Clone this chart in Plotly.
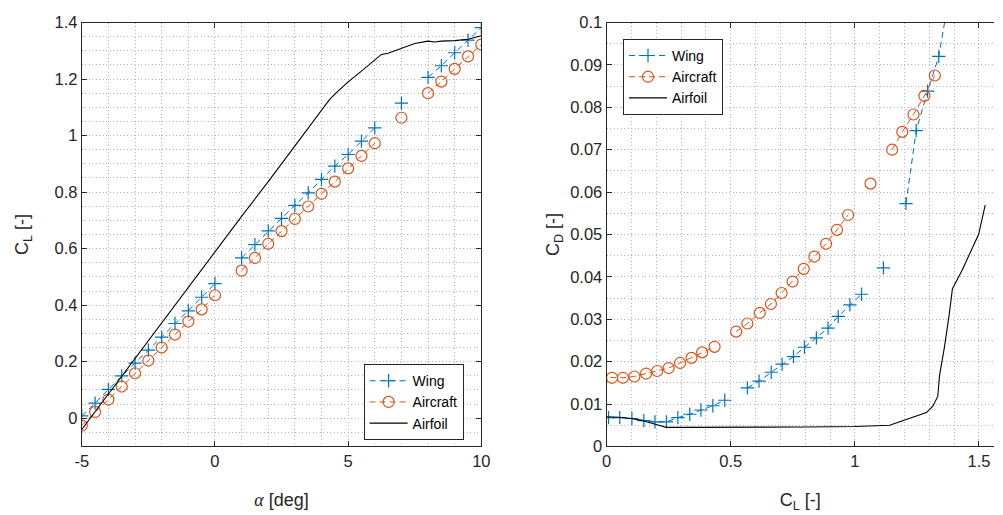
import math
import plotly.graph_objects as go

NaN = math.nan

# Angle of attack sweep [deg]; NaN entries are unconverged cases
alpha = [-5, -4.5, -4, -3.5, -3, -2.5, -2, -1.5, -1, -0.5, 0, 0.5, 1, 1.5, 2, 2.5,
         3, 3.5, 4, 4.5, 5, 5.5, 6, 6.5, 7, 7.5, 8, 8.5, 9, 9.5, 10]

cl_wing = [0.008, 0.053, 0.102, 0.150, 0.195, 0.241, 0.287, 0.335, 0.380, 0.428, 0.476, NaN,
           0.567, 0.614, 0.663, 0.707, 0.753, 0.797, 0.845, 0.892, 0.933, 0.980, 1.027, NaN,
           1.115, NaN, 1.206, 1.247, 1.293, 1.338, 1.382]
cd_wing = [0.0068, 0.0068, 0.0066, 0.0061, 0.0058, 0.0058, 0.0068, 0.0076, 0.0086, 0.0096, 0.0109, NaN,
           0.0138, 0.0154, 0.0175, 0.0194, 0.0212, 0.0234, 0.0256, 0.0279, 0.0307, 0.0334, 0.0359, NaN,
           0.0421, NaN, 0.0573, 0.0745, 0.0838, 0.0920, 0.1070]

cl_aircraft = [-0.026, 0.022, 0.066, 0.112, 0.159, 0.204, 0.250, 0.296, 0.342, 0.385, 0.435, NaN,
               0.522, 0.567, 0.617, 0.662, 0.705, 0.749, 0.794, 0.837, 0.884, 0.928, 0.973, NaN,
               1.063, NaN, 1.150, 1.191, 1.236, 1.280, 1.322]
cd_aircraft = [0.0163, 0.0162, 0.0162, 0.0165, 0.0172, 0.0178, 0.0185, 0.0197, 0.0209, 0.0222, 0.0235, NaN,
               0.0271, 0.0290, 0.0315, 0.0336, 0.0362, 0.0389, 0.0419, 0.0448, 0.0478, 0.0511, 0.0546, NaN,
               0.0620, NaN, 0.0700, 0.0742, 0.0783, 0.0827, 0.0875]

# 2D airfoil lift curve
alpha_airfoil = [-5, -4, -3, -2, -1, 0, 1, 2, 3, 3.5, 4, 4.3, 4.5, 5, 5.5, 6, 6.25, 6.5,
                 7, 7.5, 8, 8.25, 8.5, 9, 9.5, 10]
cl_airfoil = [-0.040, 0.086, 0.211, 0.337, 0.463, 0.588, 0.714, 0.837, 0.965, 1.028, 1.090, 1.127,
              1.147, 1.190, 1.228, 1.266, 1.287, 1.291, 1.309, 1.326, 1.334, 1.331, 1.334, 1.336,
              1.341, 1.353]

# 2D airfoil drag polar
cl_polar = [0.0, 0.05, 0.10, 0.15, 0.20, 0.24, 0.30, 0.50, 0.80, 1.00, 1.10, 1.14, 1.21, 1.288,
            1.314, 1.334, 1.341, 1.361, 1.380, 1.393, 1.433, 1.479, 1.499, 1.525]
cd_polar = [0.0070, 0.0069, 0.0066, 0.0060, 0.0052, 0.0045, 0.0045, 0.0045, 0.0046, 0.0047, 0.0048,
            0.0050, 0.0064, 0.0080, 0.0095, 0.0118, 0.0167, 0.0235, 0.0311, 0.0372, 0.0417, 0.0478,
            0.0501, 0.0569]

alpha_ticks = [-5, 0, 5, 10]
alpha_ticktext = ["-5", "0", "5", "10"]
cl_ticks = [0, 0.2, 0.4, 0.6, 0.8, 1, 1.2, 1.4]
cl_ticktext = ["0", "0.2", "0.4", "0.6", "0.8", "1", "1.2", "1.4"]
cd_ticks = [0, 0.01, 0.02, 0.03, 0.04, 0.05, 0.06, 0.07, 0.08, 0.09, 0.1]
cd_ticktext = ["0", "0.01", "0.02", "0.03", "0.04", "0.05", "0.06", "0.07", "0.08", "0.09", "0.1"]
clx_ticks = [0, 0.5, 1, 1.5]
clx_ticktext = ["0", "0.5", "1", "1.5"]

BLUE = "#0072BD"
ORANGE = "#D95319"
INK = "#262626"
GRID = "#b4b4b4"
GRID_DASH = "1px,2.5px"
FONT = "Liberation Sans"

W, H = 1003, 515


def dom_x(a, b):
    return [a / W, b / W]


def dom_y(top, bottom):
    return [(H - bottom) / H, (H - top) / H]


fig = go.Figure()

wing_marker = dict(symbol="cross-thin-open", size=9.5, color=BLUE, line=dict(color=BLUE, width=1.2))
air_marker = dict(symbol="circle-open", size=11, color=ORANGE, line=dict(color=ORANGE, width=1.2))

# Lift curves
fig.add_trace(go.Scatter(x=alpha, y=cl_wing, name="Wing", mode="lines+markers",
                         line=dict(color=BLUE, width=1, dash="6px,4px"), marker=wing_marker,
                         xaxis="x", yaxis="y", legend="legend"))
fig.add_trace(go.Scatter(x=alpha, y=cl_aircraft, name="Aircraft", mode="lines+markers",
                         line=dict(color=ORANGE, width=1, dash="6px,4px"), marker=air_marker,
                         xaxis="x", yaxis="y", legend="legend"))
fig.add_trace(go.Scatter(x=alpha_airfoil, y=cl_airfoil, name="Airfoil", mode="lines",
                         line=dict(color="black", width=1.1),
                         xaxis="x", yaxis="y", legend="legend"))

# Drag polars
fig.add_trace(go.Scatter(x=cl_wing, y=cd_wing, name="Wing", mode="lines+markers",
                         line=dict(color=BLUE, width=1, dash="6px,4px"), marker=wing_marker,
                         xaxis="x2", yaxis="y2", legend="legend2"))
fig.add_trace(go.Scatter(x=cl_aircraft, y=cd_aircraft, name="Aircraft", mode="lines+markers",
                         line=dict(color=ORANGE, width=1, dash="6px,4px"), marker=air_marker,
                         xaxis="x2", yaxis="y2", legend="legend2"))
fig.add_trace(go.Scatter(x=cl_polar, y=cd_polar, name="Airfoil", mode="lines",
                         line=dict(color="black", width=1.1),
                         xaxis="x2", yaxis="y2", legend="legend2"))

tickfont = dict(family=FONT, size=16.5, color=INK)
titlefont = dict(family=FONT, size=18, color=INK)


def axis(**kw):
    base = dict(showline=True, linecolor=INK, linewidth=1, ticks="inside", ticklen=5,
                tickcolor=INK, tickwidth=1, tickfont=tickfont, showgrid=True, gridcolor=GRID,
                griddash=GRID_DASH, gridwidth=1, zeroline=False)
    base.update(kw)
    return base


def minor(step):
    return dict(dtick=step, tick0=0, showgrid=True, gridcolor=GRID, griddash=GRID_DASH, ticks="")


alpha_label = ('<span style="font-family:\'Liberation Serif\'"><i>α</i></span> [deg]')

legend_style = dict(bgcolor="white", bordercolor=INK, borderwidth=1, itemwidth=38,
                    font=dict(family=FONT, size=14, color="black"), tracegroupgap=0)

fig.update_layout(
    width=W, height=H,
    margin=dict(l=0, r=0, t=0, b=0),
    paper_bgcolor="white", plot_bgcolor="white",
    font=dict(family=FONT, color=INK),
    xaxis=axis(domain=dom_x(76, 482), range=[-5, 10], tickvals=alpha_ticks, ticktext=alpha_ticktext,
               mirror="ticks", anchor="y", minor=minor(1),
               title=dict(text=alpha_label, font=titlefont, standoff=24)),
    yaxis=axis(domain=dom_y(14, 453.3), range=[-0.1, 1.4], tickvals=cl_ticks, ticktext=cl_ticktext,
               mirror="ticks", anchor="x", minor=minor(0.05),
               title=dict(text="C<sub>L</sub> [-]", font=titlefont, standoff=21)),
    xaxis2=axis(domain=dom_x(609.3, 1003), range=[0, (1003 - 609.3) / 252.3], tickvals=clx_ticks,
                ticktext=clx_ticktext, mirror="ticks", anchor="y2", minor=minor(0.1),
                title=dict(text="C<sub>L</sub> [-]", font=titlefont, standoff=24)),
    yaxis2=axis(domain=dom_y(14, 453.3), range=[0, 0.1], tickvals=cd_ticks, ticktext=cd_ticktext,
                mirror=False, anchor="x2", minor=minor(0.005),
                title=dict(text="C<sub>D</sub> [-]", font=titlefont, standoff=5)),
    legend=dict(x=464 / W, y=(H - 368) / H, xanchor="right", yanchor="top", **legend_style),
    legend2=dict(x=626 / W, y=(H - 31) / H, xanchor="left", yanchor="top", **legend_style),
)

fig.write_html("out.html")
